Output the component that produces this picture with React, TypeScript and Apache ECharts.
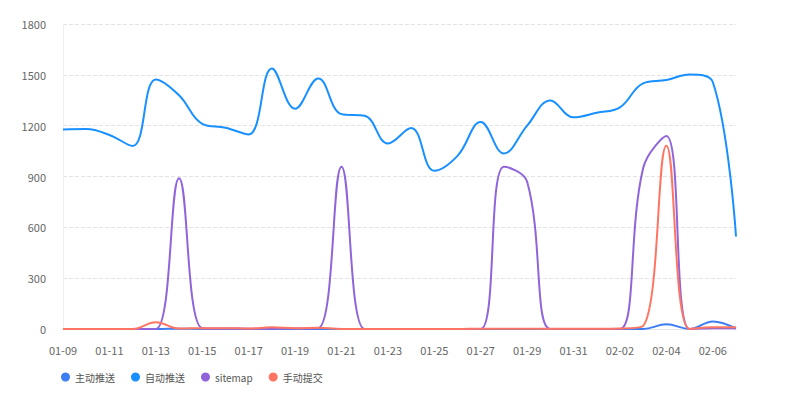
import React, { useEffect, useRef } from "react";
import * as echarts from "echarts";

const categories = [
  "01-09", "01-10", "01-11", "01-12", "01-13", "01-14", "01-15", "01-16", "01-17", "01-18",
  "01-19", "01-20", "01-21", "01-22", "01-23", "01-24", "01-25", "01-26", "01-27", "01-28",
  "01-29", "01-30", "01-31", "02-01", "02-02", "02-03", "02-04", "02-05", "02-06", "02-07",
];

const seriesNames = ["主动推送", "自动推送", "sitemap", "手动提交"];

const activePush = [
  0, 0, 0, 0, 0, 2, 0, 0, 0, 0,
  0, 0, 0, 0, 0, 0, 0, 0, 0, 0,
  0, 0, 0, 0, 0, 0, 28, 0, 45, 3,
];

const autoPush = [
  1178, 1180, 1145, 1080, 1473, 1380, 1211, 1188, 1148, 1538,
  1300, 1479, 1268, 1258, 1095, 1186, 934, 1022, 1221, 1036,
  1200, 1349, 1249, 1276, 1308, 1450, 1469, 1502, 1458, 546,
];

const sitemap = [
  0, 0, 0, 0, 0, 889, 5, 3, 2, 2,
  3, 5, 958, 0, 0, 0, 0, 0, 0, 958,
  869, 0, 0, 0, 0, 950, 1139, 0, 5, 5,
];

const manualSubmit = [
  0, 0, 0, 0, 40, 3, 5, 5, 3, 10,
  5, 8, 0, 0, 0, 0, 0, 0, 2, 2,
  2, 2, 2, 2, 3, 18, 1082, 0, 10, 10,
];

const yTicks = [0, 300, 600, 900, 1200, 1500, 1800];

const colors = ["#3f7ef2", "#1890ff", "#9065db", "#ff7563"];
const FONT = "'Noto Sans CJK SC', 'Noto Sans', sans-serif";

export default function App() {
  const ref = useRef<HTMLDivElement>(null);

  useEffect(() => {
    if (!ref.current) return;
    const chart = echarts.init(ref.current, null, { renderer: "svg" });
    const data = [activePush, autoPush, sitemap, manualSubmit];
    chart.setOption({
      animation: false,
      color: colors,
      textStyle: { fontFamily: FONT },
      grid: { left: 55, right: 54, top: 16, bottom: 56, containLabel: false },
      legend: {
        data: seriesNames,
        left: 48,
        top: 359,
        icon: "circle",
        itemWidth: 9,
        itemHeight: 9,
        itemGap: 16,
        textStyle: { fontSize: 10, color: "#555", fontFamily: FONT },
      },
      xAxis: {
        type: "category",
        boundaryGap: false,
        data: categories,
        axisLine: { lineStyle: { color: "#e6e6e6" } },
        axisTick: { show: false },
        axisLabel: {
          interval: 1,
          margin: 15,
          fontSize: 11,
          color: "#666",
          fontFamily: FONT,
        },
      },
      yAxis: {
        type: "value",
        min: yTicks[0],
        max: yTicks[yTicks.length - 1],
        interval: yTicks[1] - yTicks[0],
        axisLine: { show: true, lineStyle: { color: "#eeeeee" } },
        axisTick: { show: false },
        axisLabel: {
          margin: 17,
          fontSize: 11,
          color: "#666",
          fontFamily: FONT,
          formatter: (v: number) => String(v),
        },
        splitLine: { lineStyle: { type: "dashed", color: "#e3e3e3" } },
      },
      series: seriesNames.map((name, i) => ({
        name,
        type: "line",
        smooth: 0.4,
        symbol: "none",
        data: data[i],
        lineStyle: { width: 2, color: colors[i] },
        itemStyle: { color: colors[i] },
      })),
    });
    return () => chart.dispose();
  }, []);

  return <div ref={ref} style={{ width: 782, height: 377 }} />;
}
